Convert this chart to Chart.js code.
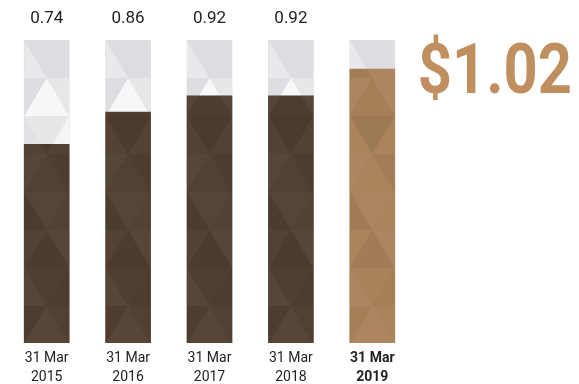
<!DOCTYPE html>
<html>
<head>
<meta charset="utf-8">
<title>Dividend per share</title>
<script src="https://cdn.jsdelivr.net/npm/chart.js@4/dist/chart.umd.min.js"></script>
<style>
    html, body { margin: 0; padding: 0; background: #fff; }
    #wrap { position: relative; width: 579px; height: 384px; }
</style>
</head>
<body>
<div id="wrap"><canvas id="dpsChart"></canvas></div>
<script>
// Year-end labels (two lines each) and dividend values
const periods = [['31 Mar', '2015'], ['31 Mar', '2016'], ['31 Mar', '2017'], ['31 Mar', '2018'], ['31 Mar', '2019']];
const dividends = [0.74, 0.86, 0.92, 0.92, 1.02];
const trackMax = 1.128;
const tracks = [trackMax, trackMax, trackMax, trackMax, trackMax];

const DARK = '#503f30';
const GOLD = '#a8825a';
const TRACK = '#dcdde0';
const HIGHLIGHT = '#bf8f5f';

// Facet shading per row: [left, centre, right]; >0 lightens, <0 darkens
const trackFacets = [[0.35, 0.0, 0.05], [0.05, 0.75, 0.3], [0.15, 0.3, 0.7], [0.1, 0.6, 0.2], [0.3, 0.1, 0.5], [0.05, 0.4, 0.2], [0.2, 0.05, 0.35], [0.1, 0.3, 0.15]];
const barFacets = [[-0.03, 0.02, 0.04], [0.03, -0.02, 0.04], [0.02, -0.06, 0.02], [0.04, 0.01, -0.03], [-0.04, 0.03, 0.02], [0.02, -0.04, 0.04], [0.04, 0.0, -0.02], [-0.02, 0.04, 0.01]];

function shadeFill(v) {
    return v >= 0 ? `rgba(255,255,255,${v})` : `rgba(0,0,0,${-v})`;
}

// Draws the triangular facet texture over each bar of a dataset
const facetPlugin = {
    id: 'facets',
    afterDatasetDraw(chart, args) {
        const meta = args.meta;
        const isTrack = meta.index === 1;
        const facets = isTrack ? trackFacets : barFacets;
        const top = chart.scales.y.getPixelForValue(trackMax);
        const rowH = 38;
        const ctx = chart.ctx;
        meta.data.forEach(bar => {
            const x0 = bar.x - bar.width / 2;
            const x1 = bar.x + bar.width / 2;
            const cx = bar.x;
            ctx.save();
            ctx.beginPath();
            ctx.rect(x0, bar.y, x1 - x0, bar.base - bar.y);
            ctx.clip();
            for (let r = 0; top + r * rowH < bar.base; r++) {
                const y0 = top + r * rowH;
                const y1 = y0 + rowH;
                const s = facets[r % facets.length];
                let tris;
                if (r % 2 === 0) {
                    tris = [
                        [[x0, y0], [cx, y1], [x0, y1]],
                        [[x0, y0], [x1, y0], [cx, y1]],
                        [[x1, y0], [x1, y1], [cx, y1]]
                    ];
                } else {
                    tris = [
                        [[x0, y0], [cx, y0], [x0, y1]],
                        [[x0, y1], [x1, y1], [cx, y0]],
                        [[x1, y0], [cx, y0], [x1, y1]]
                    ];
                }
                tris.forEach((t, i) => {
                    ctx.beginPath();
                    ctx.moveTo(t[0][0], t[0][1]);
                    ctx.lineTo(t[1][0], t[1][1]);
                    ctx.lineTo(t[2][0], t[2][1]);
                    ctx.closePath();
                    ctx.fillStyle = shadeFill(s[i]);
                    ctx.fill();
                });
            }
            ctx.restore();
        });
    }
};

// Value labels above the earlier years, large figure beside the latest year
const valuePlugin = {
    id: 'values',
    afterDatasetsDraw(chart) {
        const ctx = chart.ctx;
        const meta = chart.getDatasetMeta(0);
        const top = chart.scales.y.getPixelForValue(trackMax);
        const last = dividends.length - 1;
        ctx.save();
        ctx.textAlign = 'center';
        ctx.textBaseline = 'middle';
        ctx.fillStyle = '#222';
        ctx.font = '17px Roboto';
        meta.data.forEach((bar, i) => {
            if (i === last) return;
            ctx.fillText(dividends[i].toFixed(2), bar.x, top - 21);
        });
        const lastBar = meta.data[last];
        const textX = lastBar.x + lastBar.width / 2 + 23;
        ctx.translate(textX, top + 53);
        ctx.scale(0.84, 1);
        ctx.textAlign = 'left';
        ctx.textBaseline = 'alphabetic';
        ctx.fillStyle = HIGHLIGHT;
        ctx.font = 'bold 71px Roboto';
        ctx.fillText('$' + dividends[last].toFixed(2), 0, 0);
        ctx.restore();
    }
};

new Chart(document.getElementById('dpsChart'), {
    type: 'bar',
    data: {
        labels: periods,
        datasets: [
            {
                label: 'Dividend',
                data: dividends,
                backgroundColor: dividends.map((v, i) => i === dividends.length - 1 ? GOLD : DARK),
                grouped: false,
                barThickness: 45
            },
            {
                label: 'Track',
                data: tracks,
                backgroundColor: TRACK,
                grouped: false,
                barThickness: 45
            }
        ]
    },
    plugins: [facetPlugin, valuePlugin],
    options: {
        responsive: true,
        maintainAspectRatio: false,
        animation: false,
        layout: { padding: { top: 40, left: 6, right: 166, bottom: 0 } },
        plugins: {
            legend: { display: false },
            tooltip: { enabled: false }
        },
        scales: {
            x: {
                grid: { display: false },
                border: { display: false },
                afterFit: scale => { scale.height = 41; },
                ticks: {
                    color: '#222',
                    padding: -2,
                    maxRotation: 0,
                    font: ctx => ({
                        family: 'Roboto',
                        size: 14,
                        lineHeight: 1.36,
                        weight: ctx.index === dividends.length - 1 ? 'bold' : 'normal'
                    })
                }
            },
            y: {
                display: false,
                min: 0,
                max: trackMax
            }
        }
    }
});
</script>
</body>
</html>
